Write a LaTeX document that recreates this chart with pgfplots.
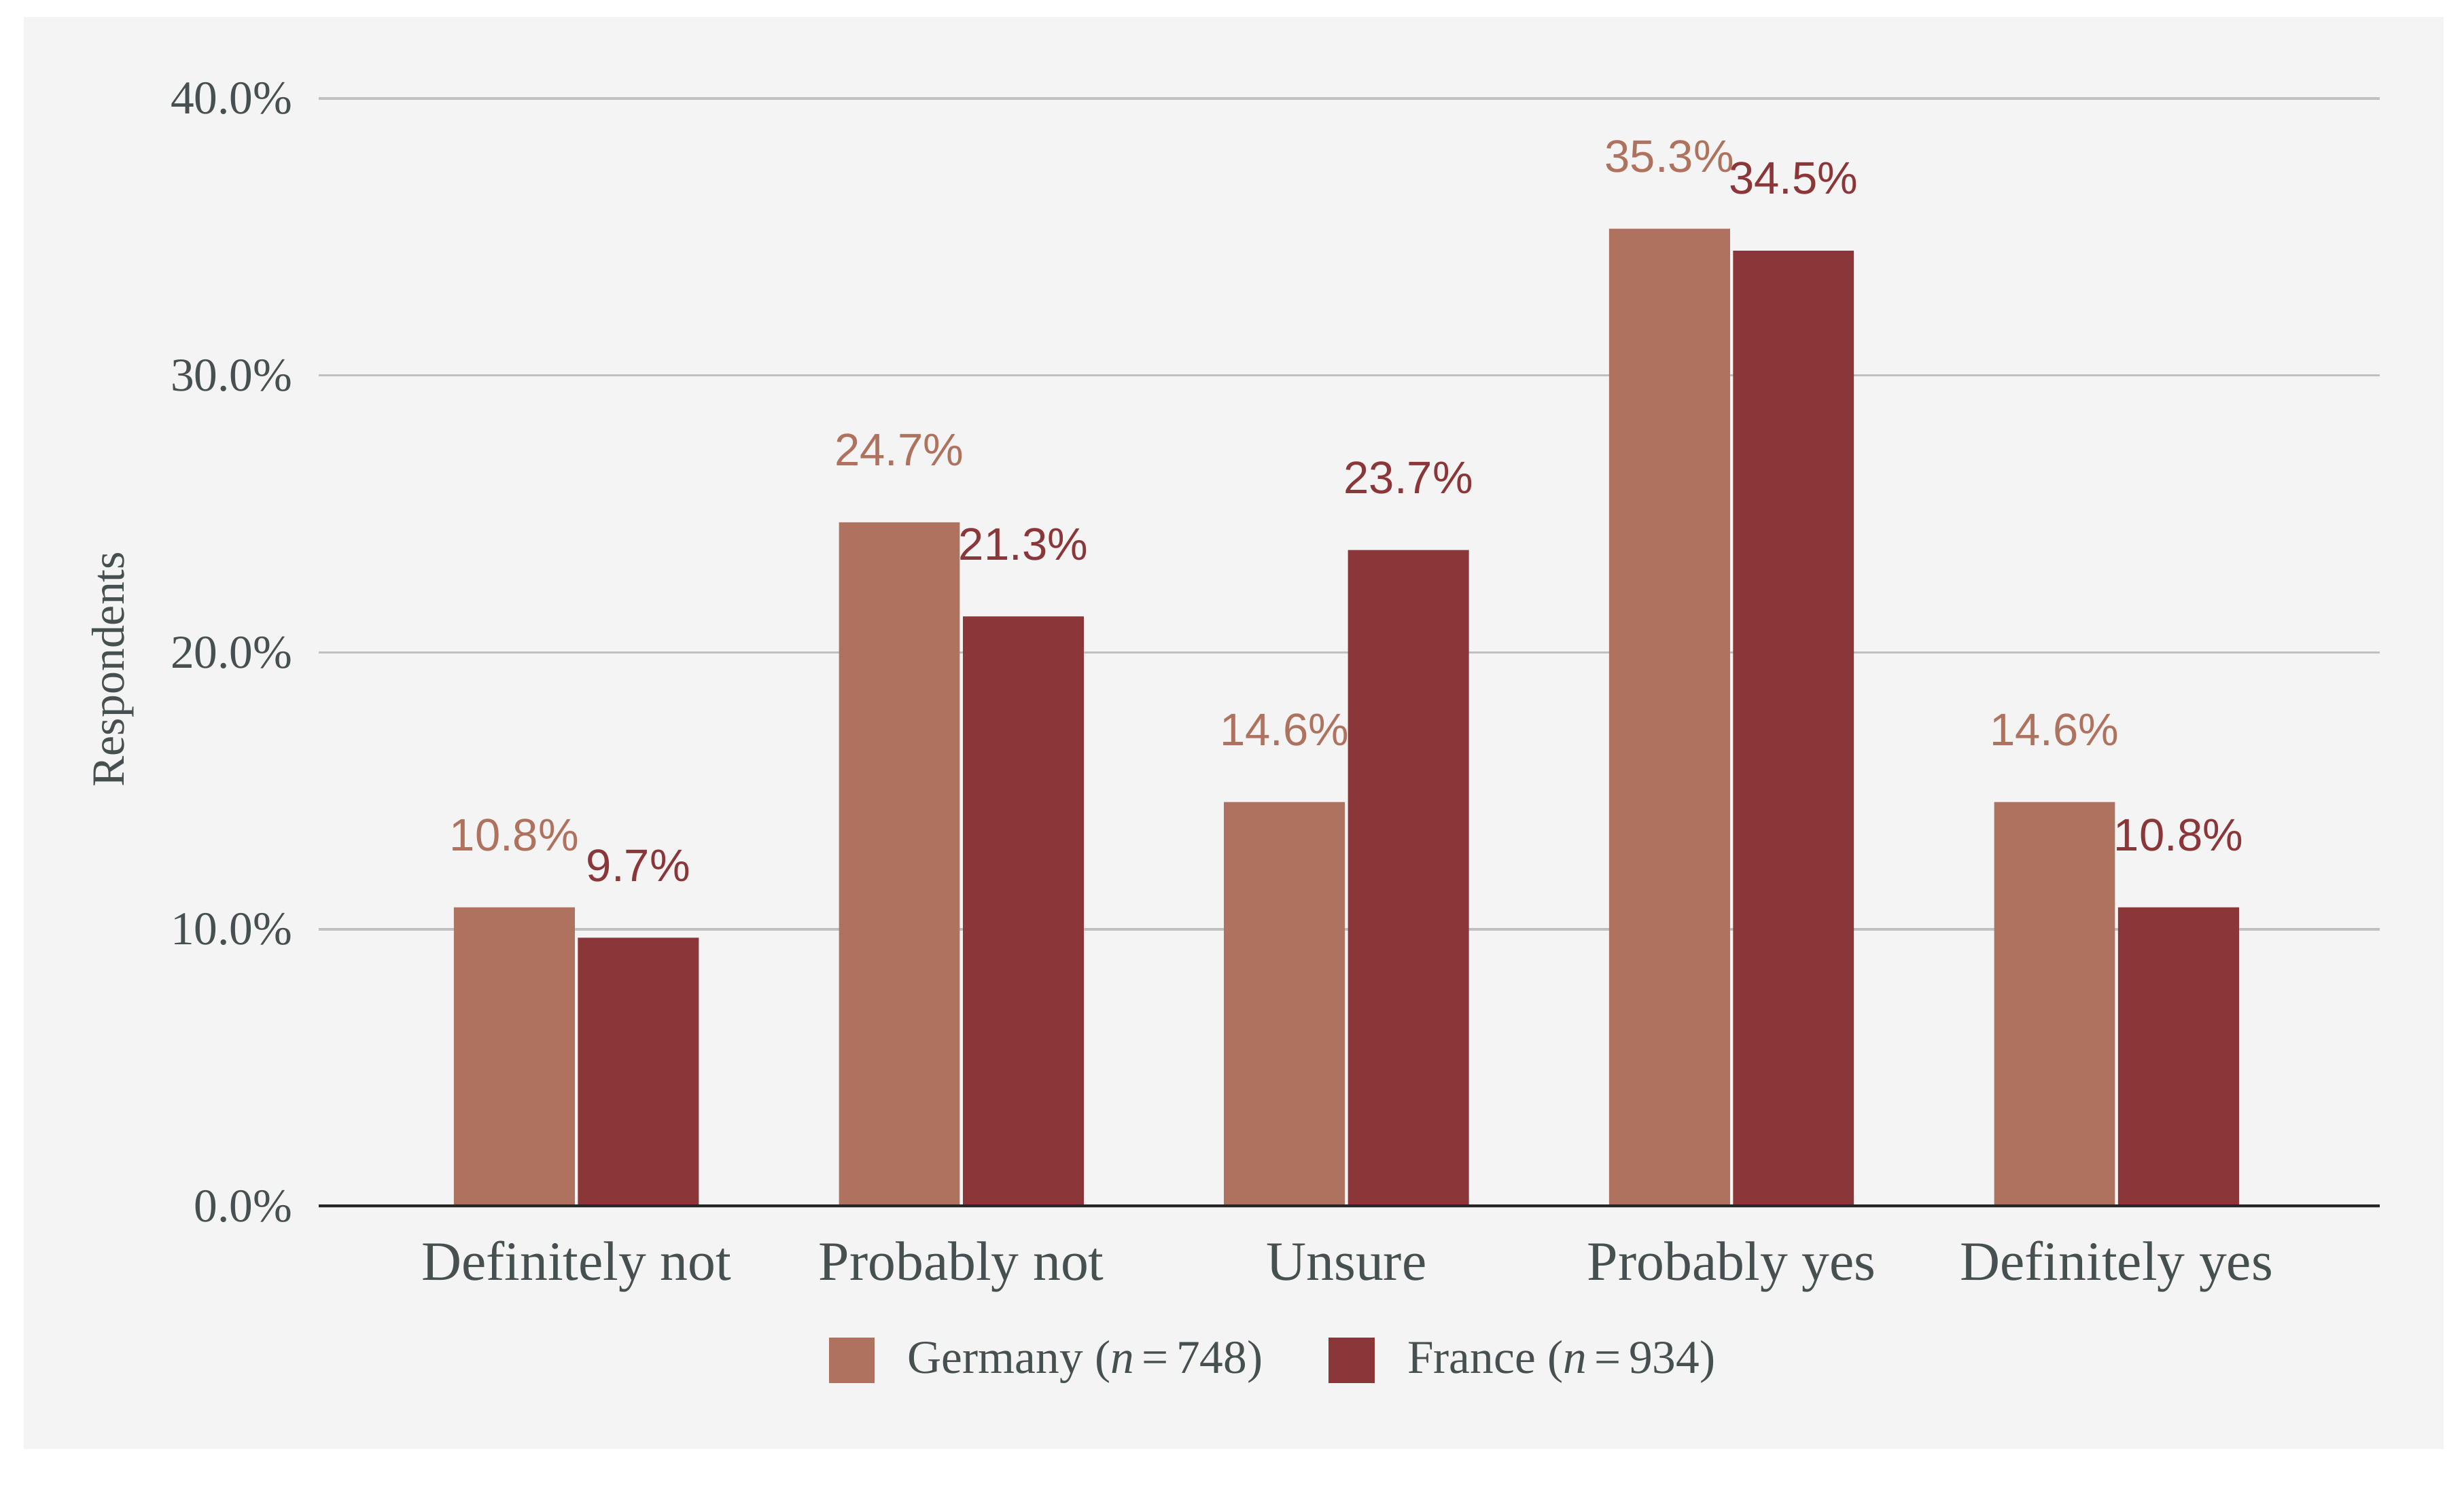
\documentclass[border=0pt]{standalone}
\usepackage{pgfplots}
\pgfplotsset{compat=1.18}
\usepackage{fontspec}
\setmainfont{Liberation Serif}
\newfontfamily\valfont{Liberation Sans}
\definecolor{germ}{RGB}{174,114,94}
\definecolor{fra}{RGB}{139,54,57}
\definecolor{panel}{RGB}{244,244,244}
\definecolor{txt}{RGB}{70,80,80}
\definecolor{gridc}{RGB}{192,192,192}
\begin{document}
\begin{tikzpicture}
\path[use as bounding box] (0,0) rectangle (470.4pt,283.5pt);
\fill[white] (0,0) rectangle (470.4pt,283.5pt);
\fill[panel] (4.53pt,6.78pt) rectangle (466.5pt,280.26pt);
\begin{axis}[
  at={(60.84pt,53.1pt)}, anchor=south west,
  width=393.5pt, height=211.6pt, scale only axis,
  xmin=-0.669, xmax=4.684, ymin=0, ymax=40,
  axis line style={draw=none},
  major tick length=0pt,
  ymajorgrids, grid style={gridc, line width=0.45pt},
  xtick={0,1,2,3,4},
  xticklabels={Definitely not, Probably not, Unsure, Probably yes, Definitely yes},
  ytick={0,10,20,30,40},
  yticklabels={0.0\%,10.0\%,20.0\%,30.0\%,40.0\%},
  yticklabel style={anchor=east, inner sep=0pt, xshift=-4.8pt, text=txt, font=\fontsize{9}{10.8}\selectfont},
  xticklabel style={anchor=base, inner sep=0pt, yshift=-14.1pt, text=txt, font=\fontsize{10.6}{12.7}\selectfont},
  legend columns=2,
  legend style={at={(0.2476,-0.139)}, anchor=west, draw=none, fill=none,
    inner sep=0pt, outer sep=0pt, text=txt, font=\fontsize{9}{10.8}\selectfont,
    nodes={inner sep=0pt},
    /tikz/every odd column/.append style={column sep=6.3pt},
    /tikz/every even column/.append style={column sep=12.6pt}},
  legend image code/.code={\fill[#1] (0pt,-4.35pt) rectangle (8.7pt,4.35pt);},
  nodes near coords={\pgfmathprintnumber[fixed,fixed zerofill,precision=1,assume math mode=true]{\pgfplotspointmeta}\%},
]
\addplot[ybar, bar width=0.314, bar shift=-0.161, fill=germ, draw=none,
  every node near coord/.append style={anchor=base, xshift=-11.84pt, yshift=10.8pt, inner sep=0pt, text=germ, font=\valfont\fontsize{8.7}{10}\selectfont}]
  coordinates {(0,10.8) (1,24.7) (2,14.6) (3,35.3) (4,14.6)};
\addlegendentry{Germany (\textit{n}\,=\,748)}
\addplot[ybar, bar width=0.314, bar shift=0.161, fill=fra, draw=none,
  every node near coord/.append style={anchor=base, xshift=11.84pt, yshift=10.8pt, inner sep=0pt, text=fra, font=\valfont\fontsize{8.7}{10}\selectfont}]
  coordinates {(0,9.7) (1,21.3) (2,23.7) (3,34.5) (4,10.8)};
\addlegendentry{France (\textit{n}\,=\,934)}
\draw[black!85, line width=0.65pt] (rel axis cs:0,0) -- (rel axis cs:1,0);
\end{axis}
\node[rotate=90, anchor=base, text=txt, font=\fontsize{8.8}{10.5}\selectfont] at (23.7pt,155.7pt) {Respondents};
\end{tikzpicture}
\end{document}
